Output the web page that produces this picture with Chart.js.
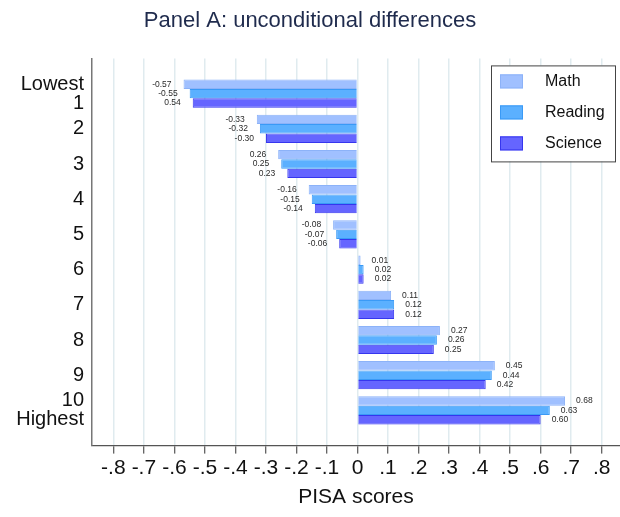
<!DOCTYPE html>
<html>
<head>
<meta charset="utf-8">
<script src="https://cdn.jsdelivr.net/npm/chart.js@4/dist/chart.umd.min.js"></script>
<style>
  html, body { margin: 0; padding: 0; background: #fff; }
  #wrap { width: 620px; height: 517px; }
</style>
</head>
<body>
<div id="wrap"><canvas id="chart" width="620" height="517"></canvas></div>
<script>
const groups = [['Lowest', '1'], '2', '3', '4', '5', '6', '7', '8', '9', ['10', 'Highest']]

const math = [-0.57, -0.33, -0.26, -0.16, -0.08, 0.01, 0.11, 0.27, 0.45, 0.68]
const reading = [-0.55, -0.32, -0.25, -0.15, -0.07, 0.02, 0.12, 0.26, 0.44, 0.63]
const science = [-0.54, -0.30, -0.23, -0.14, -0.06, 0.02, 0.12, 0.25, 0.42, 0.60]

// value labels as printed in the original figure (some minus signs are missing there)
const math_labels = ['-0.57', '-0.33', '0.26', '-0.16', '-0.08', '0.01', '0.11', '0.27', '0.45', '0.68']
const reading_labels = ['-0.55', '-0.32', '0.25', '-0.15', '-0.07', '0.02', '0.12', '0.26', '0.44', '0.63']
const science_labels = ['0.54', '-0.30', '0.23', '-0.14', '-0.06', '0.02', '0.12', '0.25', '0.42', '0.60']

const font_family = '"Liberation Sans", Arial, sans-serif'

// empty slot above and below so the groups sit one step away from the frame
const pad = (arr) => [null, ...arr, null]

const valueLabels = {
    id: 'valueLabels',
    afterDatasetsDraw(chart) {
        const ctx = chart.ctx
        ctx.save()
        ctx.font = '8.5px ' + font_family
        ctx.fillStyle = '#2a2a2a'
        ctx.textBaseline = 'middle'
        chart.data.datasets.forEach((ds, i) => {
            chart.getDatasetMeta(i).data.forEach((bar, j) => {
                const v = ds.data[j]
                if (v === null || v === undefined) return
                const text = ds.valueLabels[j]
                if (v < 0) {
                    ctx.textAlign = 'right'
                    ctx.fillText(text, bar.x - 12, bar.y)
                } else {
                    ctx.textAlign = 'left'
                    ctx.fillText(text, bar.x + 11, bar.y)
                }
            })
        })
        ctx.restore()
    }
}

const boxLegend = {
    id: 'boxLegend',
    afterDraw(chart) {
        const ctx = chart.ctx
        const area = chart.chartArea
        const w = 124, h = 96
        const left = area.right - 129
        const top = area.top + 7
        ctx.save()
        ctx.fillStyle = '#fff'
        ctx.fillRect(left, top, w, h)
        ctx.strokeStyle = '#444'
        ctx.lineWidth = 1
        ctx.strokeRect(left + 0.5, top + 0.5, w, h)
        ctx.font = '16px ' + font_family
        ctx.textBaseline = 'middle'
        ctx.textAlign = 'left'
        chart.data.datasets.forEach((ds, i) => {
            const y = top + 16 + i * 31
            ctx.fillStyle = ds.backgroundColor
            ctx.fillRect(left + 9, y - 7, 23, 14)
            ctx.strokeStyle = ds.borderColor
            ctx.strokeRect(left + 9.5, y - 6.5, 22, 13)
            ctx.fillStyle = '#111'
            ctx.fillText(ds.label, left + 54, y)
        })
        ctx.restore()
    }
}

const ctx = document.getElementById('chart').getContext('2d')
const chart = new Chart(ctx, {
    type: 'bar',
    data: {
        labels: ['', ...groups, ''],
        datasets: [{
                label: 'Math',
                data: pad(math),
                valueLabels: pad(math_labels),
                backgroundColor: '#a0c0ff',
                borderColor: '#8cb2f8',
                borderWidth: 1
            },
            {
                label: 'Reading',
                data: pad(reading),
                valueLabels: pad(reading_labels),
                backgroundColor: '#5bb0ff',
                borderColor: '#3a9af6',
                borderWidth: 1
            },
            {
                label: 'Science',
                data: pad(science),
                valueLabels: pad(science_labels),
                backgroundColor: '#6565ff',
                borderColor: '#3636ee',
                borderWidth: 1
            }
        ]
    },
    options: {
        indexAxis: 'y',
        responsive: false,
        animation: false,
        categoryPercentage: 0.8,
        barPercentage: 1.0,
        layout: { padding: { left: 0, right: 0, top: 0, bottom: 0 } },
        plugins: {
            legend: { display: false },
            tooltip: { enabled: false },
            title: {
                display: true,
                text: 'Panel A: unconditional differences',
                color: '#1f2b4d',
                font: { family: font_family, size: 22, weight: 'normal' },
                padding: { top: 8, bottom: 24 }
            }
        },
        scales: {
            x: {
                type: 'linear',
                min: -0.87,
                max: 0.86,
                grid: {
                    color: '#e0ebef',
                    lineWidth: 1.5,
                    tickColor: '#333',
                    tickLength: 8,
                    tickWidth: 1
                },
                border: { display: true, color: '#555', width: 1.3 },
                ticks: {
                    stepSize: 0.1,
                    includeBounds: false,
                    autoSkip: false,
                    maxRotation: 0,
                    padding: 2,
                    color: '#111',
                    font: { family: font_family, size: 21 },
                    callback: (v) => {
                        const r = Math.round(v * 10) / 10
                        if (r === 0) return '0'
                        return (r < 0 ? '-' : '') + Math.abs(r).toFixed(1).slice(1)
                    }
                },
                title: {
                    display: true,
                    text: 'PISA scores',
                    color: '#111',
                    font: { family: font_family, size: 21 },
                    padding: { top: 2, bottom: 7 }
                }
            },
            y: {
                type: 'category',
                offset: false,
                grid: { display: false, drawTicks: false },
                border: { display: true, color: '#777', width: 1.5 },
                ticks: {
                    autoSkip: false,
                    padding: 8,
                    color: '#111',
                    font: { family: font_family, size: 20, lineHeight: 0.95 }
                },
                afterFit: (scale) => {
                    scale.width = 92
                }
            }
        }
    },
    plugins: [valueLabels, boxLegend]
})
</script>
</body>
</html>
